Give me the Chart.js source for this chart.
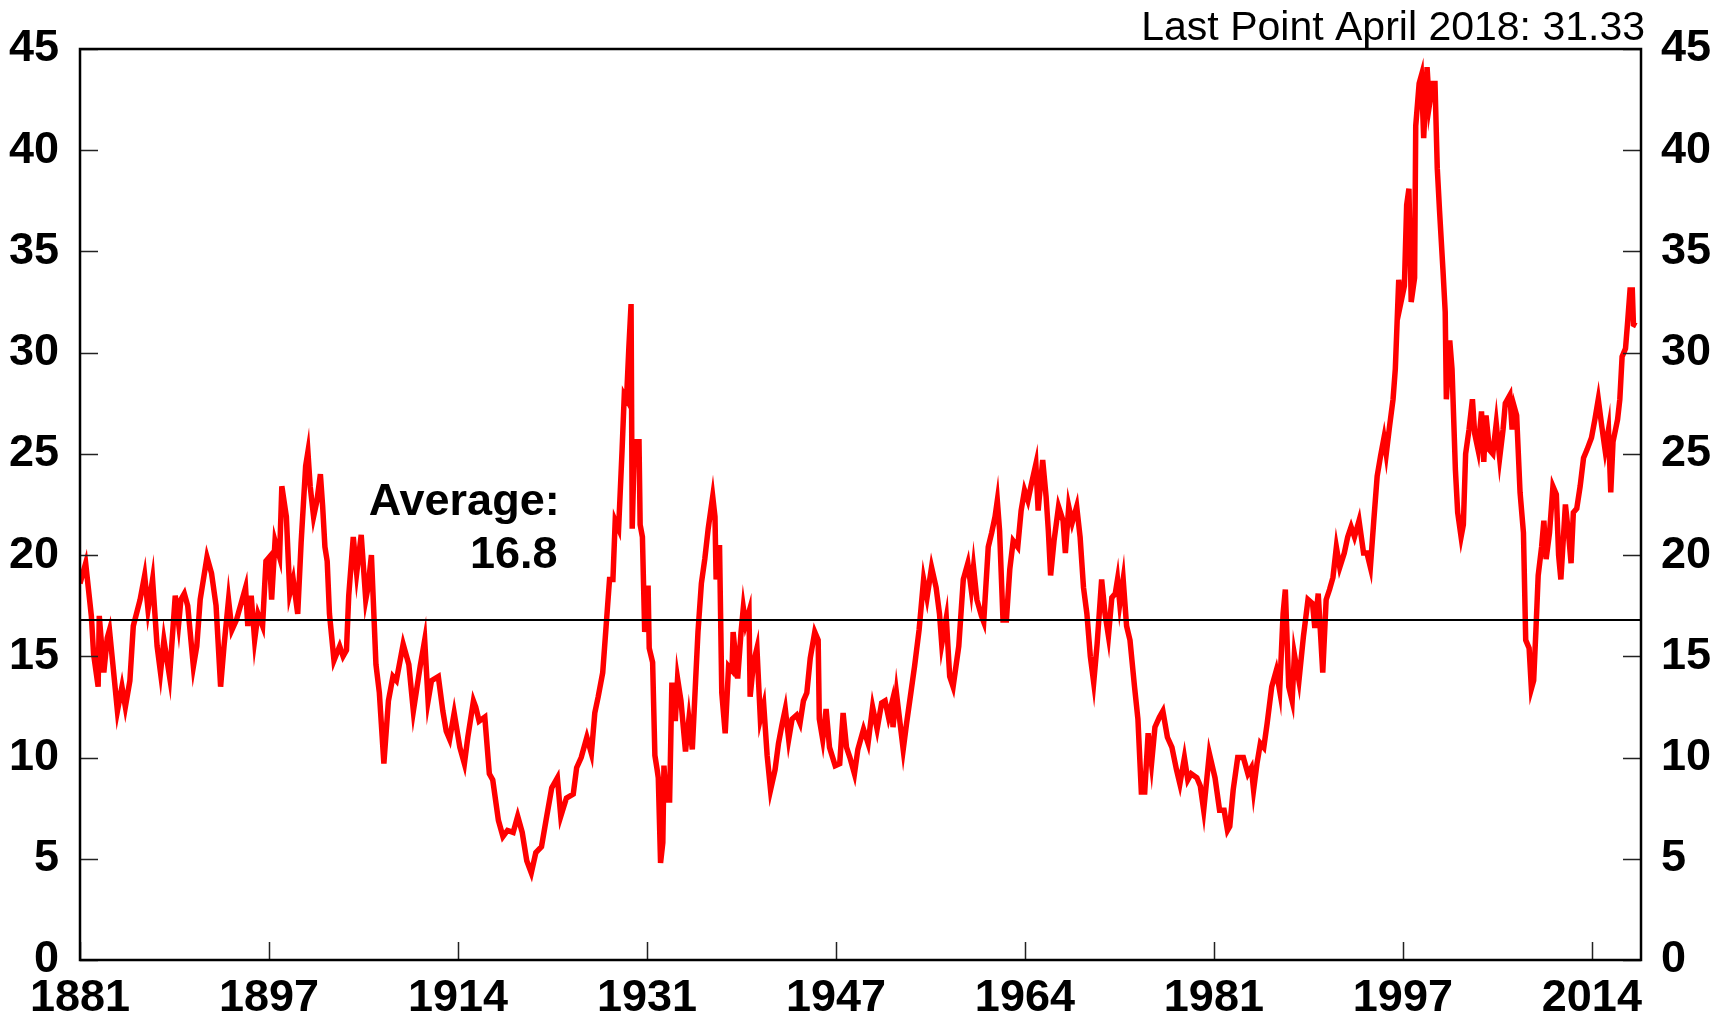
<!DOCTYPE html>
<html>
<head>
<meta charset="utf-8">
<script src="https://cdn.jsdelivr.net/npm/chart.js@4.4.1/dist/chart.umd.min.js"></script>
<style>
  html, body { margin: 0; padding: 0; background: #fff; }
  canvas { display: block; }
</style>
</head>
<body>
<canvas id="chart" width="1733" height="1019"></canvas>
<script>
// Shiller CAPE (decimal years)
var years = [
  1881.0, 1881.5, 1882.0, 1882.2, 1882.6, 1882.7, 1883.1, 1883.4, 1883.6, 1883.9,
  1884.3, 1884.7, 1885.0, 1885.4, 1885.7, 1886.3, 1886.7, 1887.0, 1887.4, 1887.8,
  1888.1, 1888.4, 1888.9, 1889.4, 1889.7, 1889.9, 1890.2, 1890.5, 1891.0, 1891.3,
  1891.6, 1892.2, 1892.6, 1893.0, 1893.4, 1893.7, 1894.1, 1894.4, 1894.8, 1895.3,
  1895.6, 1895.8, 1896.1, 1896.4, 1896.7, 1897.1, 1897.4, 1897.7, 1897.9, 1898.2,
  1898.6, 1898.8, 1899.2, 1899.5, 1899.8, 1900.2, 1900.5, 1900.9, 1901.1, 1901.3,
  1901.6, 1901.9, 1902.2, 1902.4, 1902.6, 1902.8, 1903.0, 1903.4, 1903.9, 1904.2,
  1904.5, 1904.7, 1905.1, 1905.4, 1905.8, 1906.2, 1906.4, 1906.7, 1907.1, 1907.4,
  1907.8, 1908.2, 1908.6, 1908.9, 1909.5, 1910.0, 1910.4, 1911.0, 1911.4, 1911.7,
  1912.0, 1912.6, 1913.0, 1913.3, 1913.6, 1914.0, 1914.5, 1914.9, 1915.2, 1915.7,
  1915.9, 1916.2, 1916.7, 1917.1, 1917.4, 1917.9, 1918.3, 1918.7, 1919.2, 1919.6,
  1920.0, 1920.4, 1920.8, 1921.2, 1921.7, 1922.1, 1922.6, 1923.1, 1923.4, 1923.9,
  1924.5, 1924.8, 1925.2, 1925.7, 1926.1, 1926.4, 1926.7, 1927.1, 1927.4, 1927.7,
  1928.0, 1928.2, 1928.5, 1928.8, 1929.0, 1929.2, 1929.4, 1929.6, 1929.7, 1929.9,
  1930.3, 1930.4, 1930.6, 1930.8, 1931.1, 1931.2, 1931.5, 1931.7, 1931.9, 1932.0,
  1932.2, 1932.4, 1932.5, 1932.7, 1933.0, 1933.2, 1933.5, 1933.7, 1934.0, 1934.4,
  1934.7, 1935.0, 1935.3, 1935.5, 1935.8, 1936.1, 1936.4, 1936.8, 1937.0, 1937.1,
  1937.4, 1937.6, 1937.9, 1938.2, 1938.5, 1938.6, 1939.0, 1939.3, 1939.5, 1939.7,
  1940.0, 1940.1, 1940.4, 1940.7, 1941.0, 1941.3, 1941.6, 1941.9, 1942.3, 1942.6,
  1942.9, 1943.2, 1943.5, 1943.8, 1944.2, 1944.5, 1944.8, 1945.1, 1945.4, 1945.8,
  1946.1, 1946.2, 1946.5, 1946.8, 1947.1, 1947.6, 1948.0, 1948.3, 1948.6, 1948.9,
  1949.3, 1949.6, 1950.1, 1950.5, 1950.9, 1951.3, 1951.7, 1952.0, 1952.3, 1952.6,
  1952.7, 1953.0, 1953.6, 1953.9, 1954.3, 1954.6, 1955.0, 1955.4, 1955.7, 1956.1,
  1956.5, 1956.8, 1957.0, 1957.4, 1957.7, 1958.0, 1958.5, 1958.9, 1959.3, 1959.6,
  1959.8, 1960.1, 1960.5, 1960.7, 1961.1, 1961.4, 1961.7, 1961.9, 1962.1, 1962.4,
  1962.7, 1963.0, 1963.3, 1963.7, 1964.0, 1964.3, 1964.6, 1964.9, 1965.3, 1965.5,
  1965.9, 1966.2, 1966.4, 1966.6, 1966.9, 1967.3, 1967.7, 1967.9, 1968.2, 1968.5,
  1968.9, 1969.2, 1969.5, 1969.8, 1970.1, 1970.4, 1970.7, 1971.1, 1971.4, 1971.7,
  1972.0, 1972.3, 1972.5, 1972.7, 1973.0, 1973.3, 1973.6, 1974.0, 1974.3, 1974.6,
  1974.9, 1975.2, 1975.5, 1975.8, 1976.2, 1976.5, 1976.9, 1977.3, 1977.7, 1978.0,
  1978.4, 1978.7, 1979.0, 1979.5, 1979.8, 1980.1, 1980.6, 1981.1, 1981.5, 1981.9,
  1982.2, 1982.4, 1982.7, 1983.1, 1983.6, 1984.0, 1984.3, 1984.5, 1984.8, 1985.1,
  1985.4, 1985.7, 1986.1, 1986.5, 1986.8, 1987.1, 1987.3, 1987.6, 1987.9, 1988.1,
  1988.5, 1988.9, 1989.3, 1989.7, 1989.9, 1990.2, 1990.6, 1990.9, 1991.2, 1991.5,
  1991.8, 1992.1, 1992.5, 1992.8, 1993.1, 1993.4, 1993.8, 1994.2, 1994.5, 1994.8,
  1995.1, 1995.4, 1995.7, 1996.0, 1996.2, 1996.5, 1996.8, 1997.0, 1997.3, 1997.5,
  1997.8, 1998.0, 1998.2, 1998.4, 1998.7, 1998.8, 1999.1, 1999.3, 1999.5, 1999.8,
  2000.0, 2000.3, 2000.5, 2000.7, 2000.9, 2001.2, 2001.4, 2001.5, 2001.8, 2002.0,
  2002.3, 2002.5, 2002.8, 2003.0, 2003.2, 2003.5, 2003.8, 2004.0, 2004.3, 2004.6,
  2004.8, 2005.0, 2005.3, 2005.6, 2005.9, 2006.2, 2006.5, 2006.7, 2007.1, 2007.3,
  2007.5, 2007.7, 2008.0, 2008.3, 2008.5, 2008.8, 2009.0, 2009.2, 2009.4, 2009.6,
  2009.9, 2010.1, 2010.3, 2010.6, 2010.9, 2011.2, 2011.4, 2011.6, 2012.0, 2012.3,
  2012.5, 2012.7, 2013.0, 2013.3, 2013.6, 2013.9, 2014.3, 2014.6, 2014.9, 2015.2,
  2015.5, 2015.8, 2016.0, 2016.2, 2016.6, 2016.8, 2017.0, 2017.3, 2017.5, 2017.7,
  2017.9, 2018.0, 2018.25
];
var cape = [
  18.6, 19.6, 17.0, 15.1, 13.5, 17.0, 14.2, 15.9, 16.3, 14.6,
  12.3, 13.5, 12.5, 13.8, 16.5, 17.8, 19.0, 17.3, 18.8, 15.5,
  14.2, 15.8, 14.0, 18.0, 16.6, 17.8, 18.1, 17.5, 14.5, 15.5,
  17.8, 19.9, 19.1, 17.5, 13.5, 15.5, 17.8, 16.3, 16.8, 17.8,
  18.4, 16.5, 18.0, 15.8, 17.1, 16.5, 19.7, 19.9, 17.8, 20.7,
  19.9, 23.4, 21.9, 18.1, 18.8, 17.1, 20.6, 24.4, 25.1, 23.4,
  21.9, 22.7, 24.0, 22.4, 20.4, 19.7, 17.1, 14.8, 15.5, 15.0,
  15.3, 18.0, 20.9, 19.1, 21.0, 17.8, 18.4, 20.0, 14.6, 13.2,
  9.7, 12.8, 14.0, 13.8, 15.6, 14.6, 12.3, 14.5, 15.8, 12.8,
  13.8, 14.0, 12.3, 11.3, 10.9, 12.2, 10.5, 9.7, 11.0, 12.8,
  12.5, 11.8, 12.0, 9.2, 8.9, 6.9, 6.1, 6.4, 6.3, 7.1,
  6.3, 4.9, 4.3, 5.3, 5.6, 6.9, 8.5, 9.0, 7.1, 8.0,
  8.2, 9.5, 10.0, 11.0, 10.2, 12.2, 13.0, 14.2, 16.5, 18.8,
  18.8, 21.7, 21.3, 25.1, 27.9, 27.7, 30.2, 32.4, 21.3, 25.6,
  25.6, 21.5, 20.9, 16.2, 18.5, 15.4, 14.7, 10.1, 9.4, 9.0,
  4.8, 5.8, 9.6, 7.9, 7.9, 13.7, 11.8, 13.9, 12.8, 10.3,
  11.9, 10.4, 13.9, 16.2, 18.6, 19.8, 21.3, 22.9, 21.9, 18.8,
  20.5, 13.2, 11.2, 14.5, 14.3, 16.2, 13.9, 16.2, 17.4, 16.6,
  17.2, 13.0, 14.7, 15.4, 11.9, 12.6, 10.1, 8.4, 9.4, 10.7,
  11.6, 12.4, 10.9, 11.9, 12.1, 11.7, 12.8, 13.2, 14.9, 16.2,
  15.8, 11.9, 10.9, 12.4, 10.5, 9.6, 9.7, 12.2, 10.5, 10.0,
  9.2, 10.4, 11.4, 10.7, 12.5, 11.4, 12.7, 12.8, 12.0, 12.7,
  11.5, 13.2, 10.4, 11.7, 13.3, 14.5, 16.3, 18.8, 17.9, 19.4,
  18.4, 17.1, 15.6, 16.9, 14.0, 13.5, 15.5, 18.8, 19.6, 18.3,
  19.4, 17.8, 17.0, 16.7, 20.4, 21.1, 21.9, 22.7, 21.2, 16.8,
  16.8, 19.3, 20.7, 20.4, 22.2, 23.2, 22.7, 23.5, 24.5, 22.2,
  24.7, 22.9, 21.2, 19.0, 20.7, 22.4, 21.7, 20.1, 22.4, 21.6,
  22.4, 20.9, 18.4, 17.1, 15.0, 13.7, 15.6, 18.8, 17.1, 16.0,
  17.9, 18.1, 18.8, 17.6, 18.8, 16.5, 15.8, 13.5, 11.9, 8.3,
  8.3, 11.2, 9.7, 11.5, 12.0, 12.3, 11.0, 10.5, 9.4, 8.7,
  10.0, 8.9, 9.2, 9.0, 8.6, 7.4, 10.2, 9.0, 7.4, 7.4,
  6.4, 6.6, 8.4, 10.0, 10.0, 9.2, 9.5, 8.4, 9.7, 10.7,
  10.5, 11.7, 13.5, 14.3, 13.3, 17.1, 18.3, 13.5, 12.8, 15.1,
  13.8, 16.0, 17.8, 17.6, 16.4, 18.1, 14.2, 17.8, 18.3, 18.9,
  20.4, 19.4, 20.1, 20.9, 21.4, 20.9, 21.7, 20.1, 20.1, 19.4,
  21.7, 23.9, 24.9, 25.8, 25.0, 26.4, 27.7, 29.2, 33.6, 32.5,
  33.3, 37.3, 38.1, 32.5, 33.7, 41.2, 43.3, 43.7, 40.6, 44.1,
  42.2, 43.3, 43.3, 39.1, 37.0, 34.1, 32.0, 27.7, 30.6, 29.2,
  24.2, 22.1, 20.9, 21.5, 25.0, 26.2, 27.7, 26.0, 25.2, 27.1,
  24.6, 26.9, 25.2, 25.0, 26.5, 24.8, 26.2, 27.5, 27.9, 26.2,
  27.3, 26.9, 23.1, 21.1, 15.8, 15.4, 13.4, 13.8, 16.3, 19.0,
  20.4, 21.7, 19.8, 21.1, 23.4, 23.0, 20.0, 18.8, 22.5, 20.9,
  19.6, 22.1, 22.3, 23.4, 24.8, 25.2, 25.8, 26.7, 27.7, 26.4,
  25.2, 26.2, 23.1, 25.6, 26.7, 27.7, 29.8, 30.2, 31.6, 33.1,
  33.1, 31.4, 31.33
];
var average = 16.8;
var yTicks = [0, 5, 10, 15, 20, 25, 30, 35, 40, 45];
var xTickMonths = [0, 200, 400, 600, 800, 1000, 1200, 1400, 1600];
var xTickLabels = ['1881', '1897', '1914', '1931', '1947', '1964', '1981', '1997', '2014'];
var lastPointText = 'Last Point April 2018: 31.33';

var xMin = 1881;
var xMax = 1881 + 1652 / 12;
var FONT = '"Liberation Sans", Arial, Helvetica, sans-serif';

function setYTicks(scale) {
    scale.ticks = yTicks.map(function (v) { return { value: v }; });
}

var framePlugin = {
    id: 'frame',
    afterDraw: function (chart) {
        var ctx = chart.ctx;
        var a = chart.chartArea;
        var xs = chart.scales.x;
        var ys = chart.scales.y;
        ctx.save();
        // inward tick marks
        ctx.strokeStyle = '#222';
        ctx.lineWidth = 1.5;
        ctx.beginPath();
        yTicks.forEach(function (v) {
            var py = Math.round(ys.getPixelForValue(v)) + 0.5;
            ctx.moveTo(a.left, py); ctx.lineTo(a.left + 18, py);
            ctx.moveTo(a.right, py); ctx.lineTo(a.right - 18, py);
        });
        xTickMonths.forEach(function (m) {
            var px = Math.round(xs.getPixelForValue(xMin + m / 12)) + 0.5;
            ctx.moveTo(px, a.bottom); ctx.lineTo(px, a.bottom - 18);
        });
        ctx.stroke();
        // frame
        ctx.strokeStyle = '#000';
        ctx.lineWidth = 2.5;
        ctx.strokeRect(a.left, a.top, a.right - a.left, a.bottom - a.top);
        // texts
        ctx.fillStyle = '#000';
        ctx.textAlign = 'right';
        ctx.textBaseline = 'alphabetic';
        ctx.font = 'bold 45px ' + FONT;
        var tx = xs.getPixelForValue(1923.3);
        ctx.fillText('Average:', tx, ys.getPixelForValue(22.0));
        ctx.fillText(String(average), tx - 2, ys.getPixelForValue(19.35));
        ctx.font = '41px ' + FONT;
        ctx.fillText(lastPointText, a.right + 4, a.top - 9);
        ctx.restore();
    }
};

var ctx = document.getElementById('chart').getContext('2d');
var chart = new Chart(ctx, {
    type: 'line',
    data: {
        datasets: [{
            data: [{ x: xMin, y: average }, { x: xMax, y: average }],
            borderColor: '#000',
            borderWidth: 2,
            pointRadius: 0,
            yAxisID: 'y2'
        }, {
            data: years.map(function (yr, i) { return { x: yr, y: cape[i] }; }),
            borderColor: '#ff0000',
            borderWidth: 5.5,
            pointRadius: 0,
            tension: 0,
            borderJoinStyle: 'miter',
            yAxisID: 'y'
        }]
    },
    options: {
        responsive: false,
        animation: false,
        layout: { padding: { top: 49, left: 0, right: 0, bottom: 0 } },
        plugins: { legend: { display: false }, tooltip: { enabled: false } },
        scales: {
            x: {
                type: 'linear',
                min: xMin,
                max: xMax,
                grid: { display: false, drawTicks: false },
                border: { display: false },
                afterBuildTicks: function (scale) {
                    scale.ticks = xTickMonths.map(function (m) { return { value: xMin + m / 12 }; });
                },
                afterFit: function (scale) { scale.height = 59; },
                ticks: {
                    autoSkip: false,
                    maxRotation: 0,
                    padding: 12,
                    color: '#000',
                    font: { family: FONT, size: 45, weight: 'bold' },
                    callback: function (v, i) { return xTickLabels[i]; }
                }
            },
            y: {
                position: 'left',
                min: 0,
                max: 45,
                grid: { display: false, drawTicks: false },
                border: { display: false },
                afterBuildTicks: setYTicks,
                afterFit: function (scale) { scale.width = 80; },
                ticks: {
                    padding: 21,
                    color: '#000',
                    font: { family: FONT, size: 45, weight: 'bold' }
                }
            },
            y2: {
                position: 'right',
                min: 0,
                max: 45,
                grid: { display: false, drawTicks: false },
                border: { display: false },
                afterBuildTicks: setYTicks,
                afterFit: function (scale) { scale.width = 92; },
                ticks: {
                    padding: 20,
                    color: '#000',
                    font: { family: FONT, size: 45, weight: 'bold' }
                }
            }
        }
    },
    plugins: [framePlugin]
});
</script>
</body>
</html>
